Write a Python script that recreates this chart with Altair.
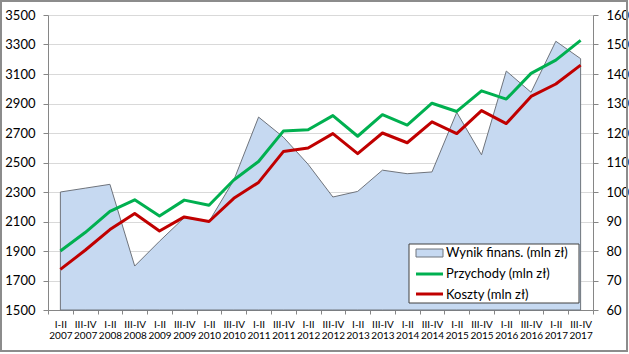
import altair as alt
import pandas as pd

periods = ["I-II 2007", "III-IV 2007", "I-II 2008", "III-IV 2008", "I-II 2009", "III-IV 2009",
           "I-II 2010", "III-IV 2010", "I-II 2011", "III-IV 2011", "I-II 2012", "III-IV 2012",
           "I-II 2013", "III-IV 2013", "I-II 2014", "III-IV 2014", "I-II 2015", "III-IV 2015",
           "I-II 2016", "III-IV 2016", "I-II 2017", "III-IV 2017"]
wynik = [100.0, 101.3, 102.6, 74.9, 83.3, 91.3, 90.0, 104.0, 125.4, 118.6, 109.4, 98.3,
         100.2, 107.4, 106.2, 106.8, 127.0, 112.6, 141.0, 133.8, 151.1, 145.2]
przychody = [1900, 2025, 2168, 2247, 2138, 2245, 2210, 2381, 2507, 2713, 2722, 2818,
             2678, 2824, 2754, 2902, 2846, 2986, 2930, 3104, 3194, 3328]
koszty = [1775, 1905, 2045, 2154, 2036, 2131, 2100, 2257, 2365, 2574, 2598, 2696,
          2560, 2700, 2634, 2776, 2696, 2852, 2764, 2948, 3032, 3160]
series_names = ["Przychody (mln zł)", "Koszty (mln zł)"]
area_name = "Wynik finans. (mln zł)"
left_ticks = list(range(1500, 3501, 200))
right_ticks = list(range(60, 161, 10))

FONT = "Lato"
GREEN = "#00b050"
RED = "#c00000"
FILL = "#c6d9f1"
AREA_STROKE = "#6f747c"
AXIS = "#868686"
GRID = "#d9d9d9"

W, H = 545, 295

df_area = pd.DataFrame({"period": periods, "wynik": wynik})
df_lines = pd.DataFrame({
    "period": periods * 2,
    "value": przychody + koszty,
    "series": [series_names[0]] * len(periods) + [series_names[1]] * len(periods),
})

xenc = alt.X("period:N", sort=periods, title=None,
             scale=alt.Scale(type="band", paddingInner=0, paddingOuter=0),
             axis=alt.Axis(labelAngle=0,
                           labelExpr="isValid(datum.value) ? split(datum.value, ' ') : ''",
                           tickBand="extent", grid=False, domainColor=AXIS, tickColor=AXIS,
                           tickSize=4, labelPadding=5, labelFontSize=10, labelLineHeight=11,
                           labelFont=FONT, labelColor="#000000"))

area = alt.Chart(df_area).mark_area(fill=FILL, stroke=AREA_STROKE, strokeWidth=1, opacity=1).encode(
    x=xenc,
    y=alt.Y("wynik:Q", title=None,
            scale=alt.Scale(domain=[60, 160], zero=False, nice=False),
            axis=alt.Axis(orient="right", values=right_ticks, format="d", grid=False,
                          domainColor=AXIS, tickColor=AXIS, tickSize=5, labelPadding=8,
                          labelFontSize=13, labelFont=FONT, labelColor="#000000")),
    y2=alt.datum(60),
)

lines = alt.Chart(df_lines).mark_line(strokeWidth=3, strokeJoin="round").encode(
    x=xenc,
    y=alt.Y("value:Q", title=None,
            scale=alt.Scale(domain=[1500, 3500], zero=False, nice=False),
            axis=alt.Axis(orient="left", values=left_ticks, format="d", grid=True, gridColor=GRID,
                          domainColor=AXIS, tickColor=AXIS, tickSize=5, labelPadding=8,
                          labelFontSize=13, labelFont=FONT, labelColor="#000000")),
    color=alt.Color("series:N", scale=alt.Scale(domain=series_names, range=[GREEN, RED]),
                    legend=None),
)

one = pd.DataFrame({"k": [0]})

legend_box = alt.Chart(one).mark_rect(fill="white", stroke="#404040", strokeWidth=1).encode(
    x=alt.value(361), x2=alt.value(531), y=alt.value(229), y2=alt.value(288))
sw_area = alt.Chart(one).mark_rect(fill=FILL, stroke=AREA_STROKE, strokeWidth=1).encode(
    x=alt.value(368), x2=alt.value(395), y=alt.value(234), y2=alt.value(242))
sw_green = alt.Chart(one).mark_rule(color=GREEN, strokeWidth=3).encode(
    x=alt.value(368), x2=alt.value(395), y=alt.value(259))
sw_red = alt.Chart(one).mark_rule(color=RED, strokeWidth=3).encode(
    x=alt.value(368), x2=alt.value(395), y=alt.value(279))

def legend_text(label, ypix):
    return alt.Chart(one).mark_text(text=label, align="left", baseline="middle",
                                    font=FONT, fontSize=13, color="#000000").encode(
        x=alt.value(398), y=alt.value(ypix))

t1 = legend_text(area_name, 238)
t2 = legend_text(series_names[0], 259)
t3 = legend_text(series_names[1], 280)

frame = alt.Chart(one).mark_rect(fillOpacity=0, stroke="#8c8c8c", strokeWidth=2).encode(
    x=alt.value(-47), x2=alt.value(579), y=alt.value(-14), y2=alt.value(336))

chart = alt.layer(area, lines, legend_box, sw_area, sw_green, sw_red, t1, t2, t3, frame).resolve_scale(
    y="independent"
).properties(
    width=W, height=H,
    padding={"left": 48, "top": 15, "right": 36, "bottom": 44},
    autosize=alt.AutoSizeParams(type="none"),
    background="white",
).configure_view(stroke=None)

chart.save("out.html", embed_options={"renderer": "svg", "actions": False})
